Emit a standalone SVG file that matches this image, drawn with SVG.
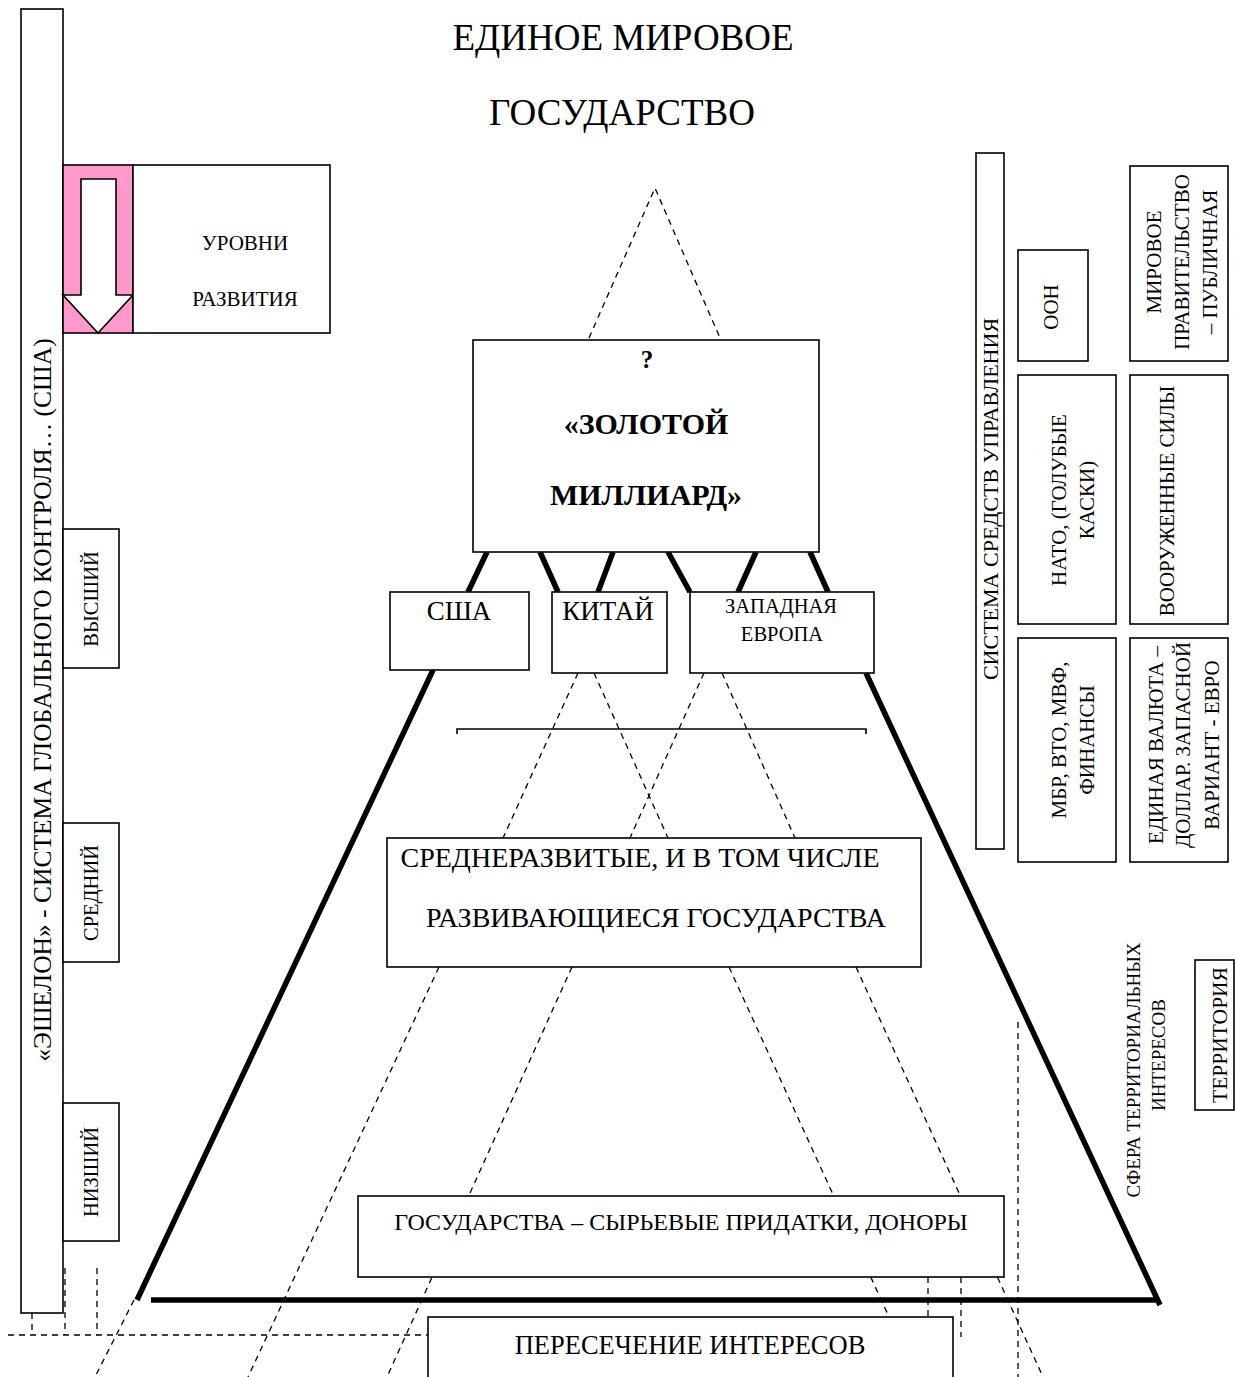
<svg xmlns="http://www.w3.org/2000/svg" width="1235" height="1377" viewBox="0 0 1235 1377">
<style>
.box{fill:#fff;stroke:#000;stroke-width:1.6}
.t{font-family:"Liberation Serif","Times New Roman","DejaVu Serif",serif;fill:#000}
.bf{font-weight:bold}
.b{stroke:#000;stroke-width:5.5;fill:none}
.d{stroke:#000;stroke-width:1.3;stroke-dasharray:6 5;fill:none}
.thin{stroke:#000;stroke-width:1.6;fill:none}
</style>
<rect width="1235" height="1377" fill="#fff"/>
<g id="title" class="t" font-size="37" text-anchor="middle">
<text x="623" y="50">ЕДИНОЕ МИРОВОЕ</text>
<text x="622" y="125">ГОСУДАРСТВО</text>
</g>
<g id="connectors">
<polyline class="d" points="589,338 655,188 720,338"/>
<line class="d" x1="578" y1="673" x2="503" y2="838"/>
<line class="d" x1="594" y1="673" x2="668" y2="838"/>
<line class="d" x1="704" y1="673" x2="630" y2="838"/>
<line class="d" x1="722" y1="673" x2="795" y2="838"/>
<line class="d" x1="439" y1="967" x2="248" y2="1377"/>
<line class="d" x1="572" y1="967" x2="387" y2="1377"/>
<line class="d" x1="729" y1="967" x2="889" y2="1317"/>
<line class="d" x1="856" y1="967" x2="1043" y2="1377"/>
<line class="d" x1="134" y1="1300" x2="95" y2="1377"/>
<line class="d" x1="8" y1="1335" x2="428" y2="1335"/>
<line class="d" x1="32" y1="1313" x2="32" y2="1335"/>
<line class="d" x1="65" y1="1268" x2="65" y2="1335"/>
<line class="d" x1="97" y1="1268" x2="97" y2="1335"/>
<line class="d" x1="928" y1="1277" x2="928" y2="1317"/>
<line class="d" x1="961" y1="1277" x2="961" y2="1337"/>
<line class="d" x1="1018" y1="1022" x2="1018" y2="1377"/>
<line class="b" x1="487" y1="552" x2="468" y2="592"/>
<line class="b" x1="540" y1="552" x2="558" y2="592"/>
<line class="b" x1="613" y1="552" x2="598" y2="592"/>
<line class="b" x1="668" y1="552" x2="690" y2="592"/>
<line class="b" x1="756" y1="552" x2="738" y2="592"/>
<line class="b" x1="810" y1="552" x2="828" y2="592"/>
<line class="b" x1="433" y1="670" x2="137" y2="1300"/>
<line class="b" x1="866" y1="673" x2="1160" y2="1305"/>
<line class="b" x1="151" y1="1300" x2="1157" y2="1300"/>
<polyline class="thin" points="457,734 457,729 866,729 866,734"/>
</g>
<g id="echelon">
<rect class="box" x="21" y="9" width="42" height="1304"/>
<text class="t" font-size="25.5" text-anchor="middle" transform="translate(42,700) rotate(-90)" dy="9">«ЭШЕЛОН» - СИСТЕМА ГЛОБАЛЬНОГО КОНТРОЛЯ…  (США)</text>
</g>
<g id="levels">
<rect x="63" y="165" width="70" height="168" fill="#ff99cc" stroke="#000" stroke-width="1.6"/>
<polygon points="81,179 116,179 116,295 133,295 98,333 63,295 81,295" fill="#fff" stroke="#000" stroke-width="1.6"/>
<rect class="box" x="133" y="165" width="197" height="168"/>
<text class="t" font-size="21" text-anchor="middle" x="245" y="250">УРОВНИ</text>
<text class="t" font-size="21" text-anchor="middle" x="245" y="306">РАЗВИТИЯ</text>
</g>
<g id="high">
<rect class="box" x="63" y="529" width="56" height="139"/>
<text class="t" font-size="20.5" text-anchor="middle" transform="translate(91,599) rotate(-90)" dy="7">ВЫСШИЙ</text>
</g>
<g id="mid">
<rect class="box" x="63" y="823" width="56" height="139"/>
<text class="t" font-size="20.5" text-anchor="middle" transform="translate(91,893) rotate(-90)" dy="7">СРЕДНИЙ</text>
</g>
<g id="low">
<rect class="box" x="63" y="1103" width="56" height="138"/>
<text class="t" font-size="20.5" text-anchor="middle" transform="translate(91,1172) rotate(-90)" dy="7">НИЗШИЙ</text>
</g>
<g id="golden">
<rect class="box" x="473" y="340" width="346" height="212"/>
<text class="t bf" font-size="25" text-anchor="middle" x="647" y="368">?</text>
<text class="t bf" font-size="30" text-anchor="middle" x="646" y="434">«ЗОЛОТОЙ</text>
<text class="t bf" font-size="30" text-anchor="middle" x="646" y="505">МИЛЛИАРД»</text>
</g>
<g id="usa">
<rect class="box" x="390" y="592" width="139" height="78"/>
<text class="t" font-size="27" text-anchor="middle" x="459" y="620">США</text>
</g>
<g id="china">
<rect class="box" x="552" y="592" width="115" height="81"/>
<text class="t" font-size="27" text-anchor="middle" x="608" y="620">КИТАЙ</text>
</g>
<g id="europe">
<rect class="box" x="690" y="592" width="184" height="81"/>
<text class="t" font-size="20.5" text-anchor="middle" x="781" y="613">ЗАПАДНАЯ</text>
<text class="t" font-size="20.5" text-anchor="middle" x="782" y="641">ЕВРОПА</text>
</g>
<g id="middev">
<rect class="box" x="387" y="838" width="534" height="129"/>
<text class="t" font-size="28" text-anchor="middle" x="640" y="867">СРЕДНЕРАЗВИТЫЕ, И В ТОМ ЧИСЛЕ</text>
<text class="t" font-size="28" text-anchor="middle" x="656" y="927">РАЗВИВАЮЩИЕСЯ ГОСУДАРСТВА</text>
</g>
<g id="donors">
<rect class="box" x="358" y="1196" width="646" height="81"/>
<text class="t" font-size="24" text-anchor="middle" x="681" y="1230">ГОСУДАРСТВА – СЫРЬЕВЫЕ ПРИДАТКИ, ДОНОРЫ</text>
</g>
<g id="intersect">
<rect class="box" x="428" y="1317" width="525" height="80"/>
<text class="t" font-size="26.5" text-anchor="middle" x="690" y="1354">ПЕРЕСЕЧЕНИЕ ИНТЕРЕСОВ</text>
</g>
<g id="system">
<rect class="box" x="976" y="153" width="28" height="696"/>
<text class="t" font-size="22" text-anchor="middle" transform="translate(990,499) rotate(-90)" dy="7.5">СИСТЕМА СРЕДСТВ УПРАВЛЕНИЯ</text>
</g>
<g id="un">
<rect class="box" x="1018" y="250" width="70" height="111"/>
<text class="t" font-size="21" text-anchor="middle" transform="translate(1051,307) rotate(-90)" dy="7">ООН</text>
</g>
<g id="gov">
<rect class="box" x="1130" y="166" width="98" height="195"/>
<g class="t" font-size="21" text-anchor="middle" transform="translate(1182,262) rotate(-90)">
<text x="0" y="-21">МИРОВОЕ</text>
<text x="0" y="7">ПРАВИТЕЛЬСТВО</text>
<text x="0" y="35">– ПУБЛИЧНАЯ</text>
</g>
</g>
<g id="nato">
<rect class="box" x="1018" y="375" width="98" height="249"/>
<g class="t" font-size="21" text-anchor="middle" transform="translate(1073,500) rotate(-90)">
<text x="0" y="-7">НАТО, (ГОЛУБЫЕ</text>
<text x="0" y="21">КАСКИ)</text>
</g>
</g>
<g id="army">
<rect class="box" x="1130" y="375" width="98" height="249"/>
<text class="t" font-size="21" text-anchor="middle" transform="translate(1167,501) rotate(-90)" dy="7">ВООРУЖЕННЫЕ СИЛЫ</text>
</g>
<g id="finance">
<rect class="box" x="1018" y="638" width="98" height="224"/>
<g class="t" font-size="21" text-anchor="middle" transform="translate(1073,740) rotate(-90)">
<text x="0" y="-7">МБР, ВТО, МВФ,</text>
<text x="0" y="21">ФИНАНСЫ</text>
</g>
</g>
<g id="currency">
<rect class="box" x="1130" y="638" width="98" height="224"/>
<g class="t" font-size="21" text-anchor="middle" transform="translate(1183,745) rotate(-90)">
<text x="0" y="-20">ЕДИНАЯ ВАЛЮТА –</text>
<text x="0" y="7">ДОЛЛАР. ЗАПАСНОЙ</text>
<text x="0" y="36">ВАРИАНТ - ЕВРО</text>
</g>
</g>
<g id="sphere" class="t" font-size="19" text-anchor="middle">
<text transform="translate(1133,1070) rotate(-90)" dy="6.5">СФЕРА ТЕРРИТОРИАЛЬНЫХ</text>
<text transform="translate(1158,1055) rotate(-90)" dy="6.5">ИНТЕРЕСОВ</text>
</g>
<g id="territory">
<rect class="box" x="1195" y="960" width="39" height="150"/>
<text class="t" font-size="21.5" text-anchor="middle" transform="translate(1219,1035) rotate(-90)" dy="7.5">ТЕРРИТОРИЯ</text>
</g>
</svg>
